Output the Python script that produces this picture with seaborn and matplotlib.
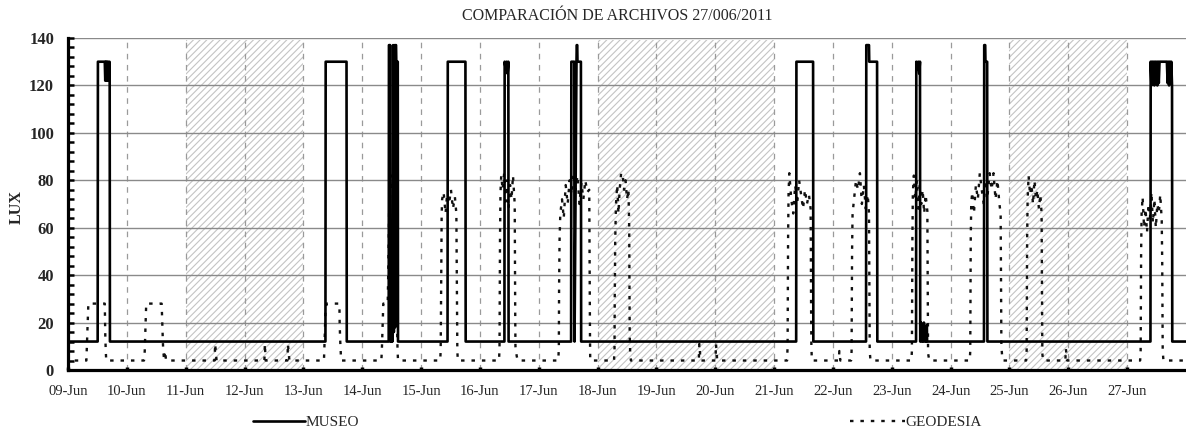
import matplotlib.pyplot as plt
import matplotlib.dates as mdates
from matplotlib.ticker import MultipleLocator
import pandas as pd
import seaborn as sns

# datos (horas desde el 09-Jun 00:00, lux)
start_date = '2011-06-09'
last_label_date = '2011-06-27'
end_date = '2011-06-28'

museo_hours = [
    0, 12.1, 12.2, 15.0, 15.2, 15.4, 15.6, 15.8, 16.0, 16.3, 16.6, 16.9, 17.0, 17.1,
    105.0, 105.1, 113.6, 113.7,
    130.8, 130.9, 131.4, 131.5, 131.7, 131.9, 132.1, 132.3, 132.5, 132.6, 132.9,
    133.1, 133.4, 133.6, 133.8, 133.9, 134.5, 134.6,
    154.8, 154.9, 162.1, 162.2,
    178.0, 178.1, 178.5, 178.9, 179.3, 179.6, 179.7,
    205.2, 205.3, 206.5, 206.6, 207.4, 207.5, 207.7, 207.8, 209.2, 209.3,
    297.0, 297.1, 303.9, 304.0,
    325.5, 325.6, 326.7, 326.8, 330.0, 330.1,
    345.9, 346.0, 346.4, 346.8, 347.2, 347.5, 347.6, 347.9, 348.2, 348.5,
    348.8, 349.1, 349.4, 349.7, 350.0, 350.3, 350.4,
    373.6, 373.7, 374.1, 374.2, 374.9, 375.0,
    441.5, 441.6, 441.9, 442.2, 442.5, 442.8, 443.1, 443.4, 443.7, 444.0,
    444.3, 444.6, 444.9, 445.2, 445.8, 448.2, 448.5, 448.8, 449.1, 449.4,
    449.7, 450.0, 450.3, 450.4,
    456.0,
]
museo_lux = [
    12, 12, 130, 130, 122, 130, 122, 130, 122, 130, 122, 130, 124, 12,
    12, 130, 130, 12,
    12, 137, 137, 12, 20, 12, 19, 12, 18, 137, 16,
    137, 18, 137, 137, 130, 130, 12,
    12, 130, 130, 12,
    12, 130, 127, 130, 125, 130, 12,
    12, 130, 130, 12, 130, 137, 137, 130, 130, 12,
    12, 130, 130, 12,
    12, 137, 137, 130, 130, 12,
    12, 130, 127, 130, 125, 130, 12, 20, 12, 19,
    12, 20, 12, 18, 12, 19, 12,
    12, 137, 137, 130, 130, 12,
    12, 130, 120, 130, 121, 130, 120, 130, 121, 130,
    120, 130, 121, 130, 130, 130, 121, 130, 120, 130,
    121, 130, 120, 12,
    12,
]

geodesia_hours = [
    0, 0.5, 7.5, 7.7, 7.9, 8.1, 8.3, 15.0, 15.2, 15.4, 15.6,
    31.0, 31.3, 31.5, 31.7, 31.9, 38.2, 38.4, 38.6, 38.8, 39.2, 39.6, 40.0,
    59.8, 60.0, 60.6, 80.1, 80.3, 80.6, 89.5, 89.7, 90.3,
    104.4, 104.6, 104.8, 105.0, 105.5, 110.7, 110.8, 111.0, 111.2, 111.4,
    127.8, 128.0, 128.2, 128.4, 128.6, 130.4, 130.6, 130.8, 131.0, 131.2,
    131.6, 132.0, 132.6, 133.2, 133.8, 134.0, 134.2, 134.4, 134.6,
    151.8, 152.0, 152.1, 152.2, 152.3, 152.4, 152.6, 153.2, 154.0, 154.6,
    155.4, 156.2, 157.0, 157.8, 158.4, 158.5, 158.6, 158.7, 158.8, 159.0,
    175.8, 176.0, 176.1, 176.2, 176.4, 176.7, 177.3, 177.9, 178.5, 179.1,
    179.7, 180.3, 180.9, 181.5, 182.2, 182.3, 182.4, 182.5, 183.0, 183.4,
    200.0, 200.2, 200.3, 200.5, 200.8, 201.5, 202.2, 203.0, 203.8, 204.6,
    205.4, 206.2, 207.0, 207.8, 208.6, 209.4, 210.2, 211.0, 211.8, 212.6,
    212.7, 212.8, 212.9, 213.0,
    222.7, 222.9, 223.0, 223.2, 223.5, 224.0, 224.5, 225.0, 225.6, 226.2,
    226.8, 227.4, 228.0, 228.6, 228.9, 229.0, 229.1, 229.3, 229.6,
    257.3, 257.5, 258.0, 264.1, 264.3, 264.8,
    293.3, 293.5, 293.6, 293.7, 293.9, 294.2, 295.0, 295.8, 296.6, 297.4,
    298.2, 299.0, 299.8, 300.6, 301.4, 302.2, 302.9, 303.0, 303.1, 303.2,
    303.4, 314.4, 314.6, 315.0,
    319.4, 319.6, 319.7, 319.8, 320.0, 320.6, 321.4, 322.2, 323.0, 323.8,
    324.6, 325.4, 326.2, 326.7, 326.8, 326.9, 327.0, 327.3,
    344.0, 344.2, 344.3, 344.4, 344.6, 345.0, 345.6, 346.2, 346.8, 347.4,
    348.0, 348.6, 349.2, 349.8, 350.5, 350.6, 350.7, 350.8, 351.3,
    367.8, 368.0, 368.1, 368.2, 368.4, 368.8, 369.5, 370.3, 371.1, 371.9,
    372.7, 373.5, 374.3, 375.1, 375.9, 376.7, 377.5, 378.3, 379.1, 379.9,
    380.4, 380.5, 380.6, 380.7, 381.0, 381.3,
    390.8, 391.0, 391.1, 391.2, 391.4, 391.8, 392.4, 393.0, 393.6, 394.2,
    394.8, 395.4, 396.0, 396.6, 397.1, 397.2, 397.3, 397.4, 397.7,
    406.8, 407.0, 407.5,
    437.3, 437.5, 437.6, 437.7, 437.9, 438.3, 438.9, 439.5, 440.1, 440.7,
    441.3, 441.9, 442.5, 443.1, 443.7, 444.3, 444.9, 445.5, 446.1, 446.3,
    446.4, 446.5, 446.8, 456.0,
]
geodesia_lux = [
    6, 4, 4, 10, 17, 22, 28, 28, 15, 8, 4,
    4, 8, 15, 22, 28, 28, 21, 15, 9, 4, 8, 4,
    4, 11, 4, 4, 11, 4, 4, 11, 4,
    4, 10, 17, 25, 28, 28, 20, 13, 8, 4,
    4, 8, 15, 22, 28, 28, 40, 55, 70, 83,
    76, 82, 72, 80, 68, 40, 20, 9, 4,
    4, 8, 20, 35, 50, 65, 72, 75, 66, 74,
    70, 76, 68, 73, 66, 50, 30, 15, 8, 4,
    4, 9, 30, 55, 75, 82, 76, 83, 71, 80,
    68, 78, 72, 82, 70, 45, 25, 10, 6, 4,
    4, 10, 35, 55, 66, 72, 64, 78, 70, 80,
    74, 83, 76, 82, 70, 79, 72, 80, 75, 76,
    55, 35, 15, 4,
    4, 8, 30, 55, 70, 78, 66, 76, 83, 83,
    76, 80, 72, 76, 60, 35, 15, 7, 4,
    4, 11, 4, 4, 11, 4,
    4, 10, 30, 55, 75, 83, 72, 66, 78, 70,
    80, 74, 68, 76, 70, 74, 68, 45, 25, 10,
    4, 4, 8, 4,
    4, 8, 30, 50, 66, 72, 80, 76, 83, 70,
    78, 68, 74, 66, 45, 25, 8, 4,
    4, 8, 30, 55, 75, 82, 72, 80, 68, 78,
    70, 76, 66, 74, 67, 45, 25, 7, 4,
    4, 8, 30, 55, 70, 75, 66, 78, 72, 83,
    76, 70, 80, 74, 83, 76, 83, 72, 80, 70,
    66, 45, 25, 10, 6, 4,
    4, 8, 30, 55, 72, 82, 74, 78, 70, 80,
    72, 76, 68, 74, 66, 45, 25, 7, 4,
    4, 9, 4,
    4, 8, 30, 50, 66, 73, 60, 68, 58, 70,
    64, 75, 62, 72, 60, 70, 66, 74, 63, 45,
    25, 8, 4, 4,
]

# fines de semana / festivos sombreados
shade_start = ['2011-06-11', '2011-06-18', '2011-06-25']
shade_end = ['2011-06-13', '2011-06-21', '2011-06-27']

title = 'COMPARACIÓN DE ARCHIVOS 27/006/2011'


def build_frame(hours, lux):
    t0 = pd.Timestamp(start_date)
    return pd.DataFrame({'Fecha': t0 + pd.to_timedelta(hours, unit='h'), 'LUX': lux})


sns.set_theme(style='white')
plt.rcParams['font.family'] = ['Liberation Serif', 'DejaVu Serif']
plt.rcParams['lines.scale_dashes'] = False
plt.rcParams['hatch.linewidth'] = 0.8

fig = plt.figure(figsize=(11.86, 4.32), dpi=100)
ax = fig.add_axes([68 / 1186, 1 - 370 / 432, 1 - 68 / 1186, 332 / 432])

for s, e in zip(shade_start, shade_end):
    ax.axvspan(pd.Timestamp(s), pd.Timestamp(e), ymin=0, ymax=0.993,
               facecolor='none', edgecolor='#c4c4c4', hatch='/////', lw=0, zorder=0.5)

sns.lineplot(data=build_frame(geodesia_hours, geodesia_lux), x='Fecha', y='LUX',
             color='#111111', lw=1.7, linestyle=(0, (2.5, 5)), estimator=None,
             sort=False, ax=ax, zorder=2)
sns.lineplot(data=build_frame(museo_hours, museo_lux), x='Fecha', y='LUX',
             color='black', lw=1.9, estimator=None, sort=False, ax=ax, zorder=3)
geo_line, museo_line = ax.get_lines()[-2:]

ax.set_xlim(pd.Timestamp(start_date), pd.Timestamp(end_date))
ax.set_ylim(0, 140)
ax.set_xticks(pd.date_range(start_date, last_label_date, freq='D'))
ax.xaxis.set_major_formatter(mdates.DateFormatter('%d-%b'))
ax.yaxis.set_major_locator(MultipleLocator(20))
ax.yaxis.set_minor_locator(MultipleLocator(4))

ax.grid(axis='y', which='major', color='#8a8a8a', lw=1.0, ls='-', zorder=1)
ax.grid(axis='x', which='major', color='#9a9a9a', lw=0.9, ls=(0, (4, 4)), zorder=1)
ax.set_axisbelow(True)

for side in ['top', 'right']:
    ax.spines[side].set_visible(False)
for side in ['left', 'bottom']:
    ax.spines[side].set_color('black')
    ax.spines[side].set_linewidth(2.3)
    ax.spines[side].set_zorder(5)

ax.tick_params(axis='y', which='both', direction='in', length=4, width=1.8,
               color='black', pad=10, labelsize=12, left=True)
ax.tick_params(axis='x', which='major', direction='in', length=2.5, width=2.5,
               color='black', pad=11, labelsize=10.5, bottom=True)
for lab in ax.get_yticklabels():
    lab.set_fontweight('bold')

ax.set_xlabel('')
ax.set_ylabel('')
fig.text(17 / 1186, 1 - 207 / 432, 'LUX', rotation=90, ha='center', va='center',
         fontsize=11.5, fontweight='bold')
fig.text(617 / 1186, 1 - 16 / 432, title, ha='center', va='center', fontsize=11.5)

fig.legend(handles=[museo_line], labels=['MUSEO'], loc='center left',
           bbox_to_anchor=(253 / 1186, 1 - 422 / 432), frameon=False, fontsize=11,
           borderpad=0, borderaxespad=0, handlelength=3.4, handletextpad=0.05)
fig.legend(handles=[geo_line], labels=['GEODESIA'], loc='center left',
           bbox_to_anchor=(850 / 1186, 1 - 422 / 432), frameon=False, fontsize=11,
           borderpad=0, borderaxespad=0, handlelength=3.6, handletextpad=0.05)

fig.savefig('out.png', dpi=100)
